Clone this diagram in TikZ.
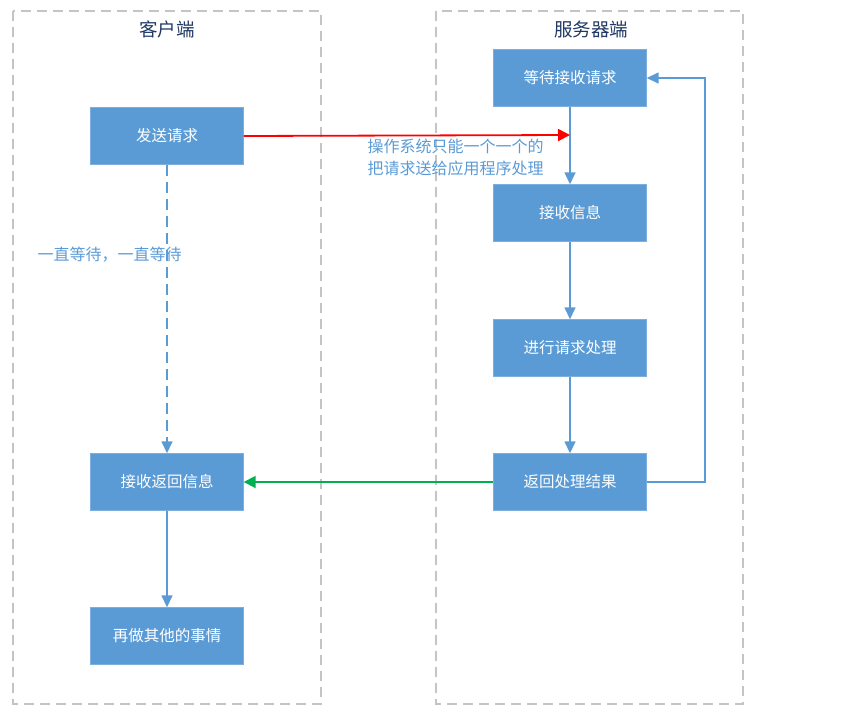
\documentclass[tikz,border=0pt]{standalone}
\usepackage{fontspec}
\setmainfont{Noto Sans CJK SC}
\usetikzlibrary{arrows.meta}
\definecolor{boxblue}{HTML}{5B9BD5}
\definecolor{linkblue}{HTML}{5B9BD5}
\definecolor{titleblue}{HTML}{1F3864}
\definecolor{framegray}{HTML}{C4C4C4}
\definecolor{redline}{HTML}{FF0000}
\definecolor{greenline}{HTML}{00B050}
\tikzset{
  stepbox/.style={draw=boxblue!80!white, fill=boxblue, text=white, minimum width=153pt, minimum height=57pt, inner sep=0pt, font=\fontsize{15.5}{18}\selectfont},
  frame/.style={draw=framegray, line width=2pt, dash pattern=on 10pt off 6pt},
  title/.style={text=titleblue, font=\fontsize{18.5}{21}\selectfont},
  flow/.style={draw=linkblue, line width=1.5pt, -{Triangle[length=12pt,width=11pt]}},
  lbl/.style={text=linkblue, font=\fontsize{16}{22}\selectfont, align=left}
}
\begin{document}
\begin{tikzpicture}[x=1pt,y=-1pt]
\useasboundingbox (0,0) rectangle (863,712);
\draw[frame] (13,11) rectangle (321,704);
\draw[frame] (436,11) rectangle (743,704);
\node[title] (tc) at (167,29) {客户端};
\node[title] (ts) at (591,29) {服务器端};

\node[stepbox] (send) at (167,136) {发送请求};
\node[stepbox] (wait) at (570,78) {等待接收请求};
\node[stepbox] (recv) at (570,213) {接收信息};
\node[stepbox] (proc) at (570,348) {进行请求处理};
\node[stepbox] (ret) at (570,482) {返回处理结果};
\node[stepbox] (getr) at (167,482) {接收返回信息};
\node[stepbox] (other) at (167,636) {再做其他的事情};

\draw[flow] (wait) -- (recv);
\draw[flow] (recv) -- (proc);
\draw[flow] (proc) -- (ret);
\draw[flow] (getr) -- (other);
\draw[flow, dash pattern=on 11pt off 6pt] (send) -- (getr);
\draw[flow] (ret.east) -- (705,482) -- (705,78) -- (wait.east);
\coordinate (hit) at (570,135);
\draw[draw=redline, line width=1.8pt, -{Triangle[length=12pt,width=12pt]}] (send.east) -- (hit);
\draw[draw=greenline, line width=1.8pt, -{Triangle[length=12pt,width=12pt]}] (ret.west) -- (getr.east);

\node[lbl, anchor=north west] (note) at (364,135) {操作系统只能一个一个的\\把请求送给应用程序处理};
\node[lbl, anchor=west] (waitlbl) at (34,255) {一直等待，一直等待};
\end{tikzpicture}
\end{document}
